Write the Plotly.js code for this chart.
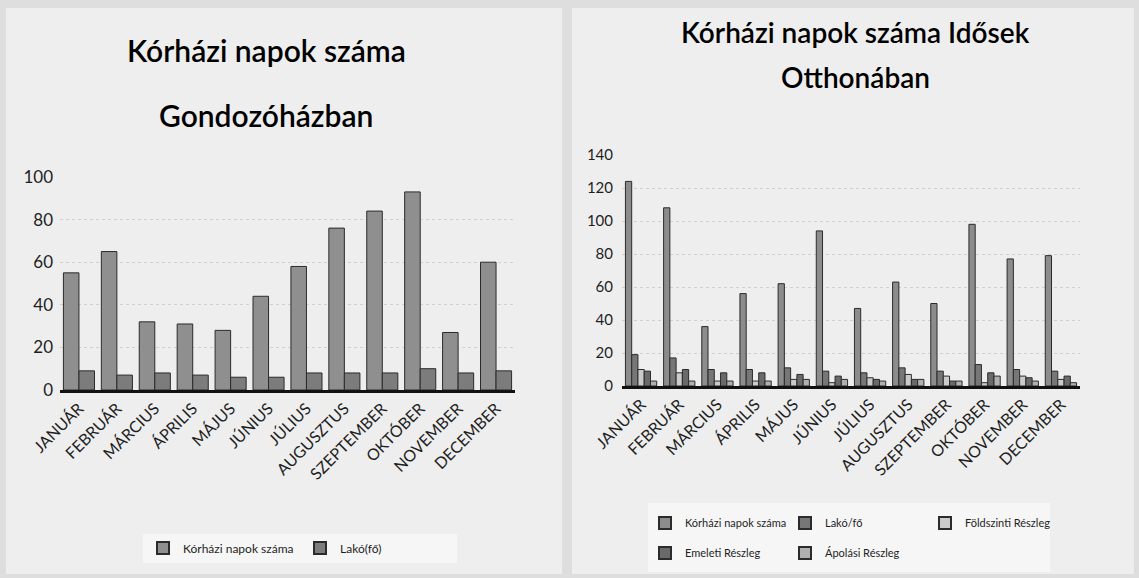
<!DOCTYPE html>
<html>
<head>
<meta charset="utf-8">
<script src="https://cdn.plot.ly/plotly-3.0.1.min.js"></script>
<style>html,body{margin:0;padding:0;background:#dedede;overflow:hidden;}#chart{width:1139px;height:578px;overflow:hidden;}</style>
</head>
<body>
<div id="chart"></div>
<script>
// ---- data ----
const months = ['JANUÁR','FEBRUÁR','MÁRCIUS','ÁPRILIS','MÁJUS','JÚNIUS','JÚLIUS','AUGUSZTUS','SZEPTEMBER','OKTÓBER','NOVEMBER','DECEMBER'];

// Left chart: Gondozóház
const leftTitle = ['Kórházi napok száma', 'Gondozóházban'];
const leftKorhazi = [55, 65, 32, 31, 28, 44, 58, 76, 84, 93, 27, 60];
const leftLako = [9, 7, 8, 7, 6, 6, 8, 8, 8, 10, 8, 9];
const leftNames = ['Kórházi napok száma', 'Lakó(fő)'];

// Right chart: Idősek Otthona
const rightTitle = ['Kórházi napok száma Idősek', 'Otthonában'];
const rightKorhazi = [124, 108, 36, 56, 62, 94, 47, 63, 50, 98, 77, 79];
const rightLako = [19, 17, 10, 10, 11, 9, 8, 11, 9, 13, 10, 9];
const rightFoldszinti = [10, 8, 3, 3, 4, 2, 5, 7, 6, 2, 6, 4];
const rightEmeleti = [9, 10, 8, 8, 7, 6, 4, 4, 3, 8, 5, 6];
const rightApolasi = [3, 3, 3, 3, 4, 4, 3, 4, 3, 6, 3, 2];
const rightNames = ['Kórházi napok száma', 'Lakó/fő', 'Földszinti Részleg', 'Emeleti Részleg', 'Ápolási Részleg'];

// ---- rendering ----
const W = 1139, H = 578;
const px = v => v / W;
const py = v => 1 - v / H;
const FONT = 'Lato, "Open Sans", sans-serif';
const outline = {color: '#2b2b2b', width: 1};

function bar(x, y, name, color, xa, ya, legend) {
  return {type: 'bar', x: x, y: y, name: name, xaxis: xa, yaxis: ya, legend: legend,
          marker: {color: color, line: outline}, hoverinfo: 'x+y+name'};
}

const traces = [
  bar(months, leftKorhazi, leftNames[0], '#8f8f8f', 'x', 'y', 'legend'),
  bar(months, leftLako, leftNames[1], '#7c7c7c', 'x', 'y', 'legend'),
  bar(months, rightKorhazi, rightNames[0], '#8c8c8c', 'x2', 'y2', 'legend2'),
  bar(months, rightLako, rightNames[1], '#777777', 'x2', 'y2', 'legend2'),
  bar(months, rightFoldszinti, rightNames[2], '#cbcbcb', 'x2', 'y2', 'legend2'),
  bar(months, rightEmeleti, rightNames[3], '#6a6a6a', 'x2', 'y2', 'legend3'),
  bar(months, rightApolasi, rightNames[4], '#b0b0b0', 'x2', 'y2', 'legend3')
];

const xCommon = {
  type: 'category', showline: true, linecolor: '#111', linewidth: 3,
  ticks: '', tickangle: -45, showgrid: false, zeroline: false,
  tickfont: {family: FONT, size: 16, color: '#1e1e1e'}
};
const yCommon = {
  showline: false, ticks: '', zeroline: false, dtick: 20,
  showgrid: true, gridcolor: '#d0d0d0', griddash: 'dot', gridwidth: 1,
  tickfont: {family: FONT, size: 17, color: '#1e1e1e'}
};

const legendCommon = {
  orientation: 'h', font: {family: FONT, size: 12, color: '#1e1e1e'},
  itemsizing: 'constant', yanchor: 'middle', traceorder: 'normal', itemwidth: 30
};

const layout = {
  width: W, height: H, autosize: false,
  margin: {l: 0, r: 0, t: 0, b: 0},
  paper_bgcolor: '#dedede', plot_bgcolor: '#f9f9f9',
  barmode: 'group', bargap: 0.18, bargroupgap: 0,
  showlegend: true,
  xaxis: Object.assign({}, xCommon, {domain: [px(60), px(515)], anchor: 'y'}),
  yaxis: Object.assign({}, yCommon, {domain: [py(390), py(177)], range: [0, 100], anchor: 'x', ticklabelstandoff: 6}),
  xaxis2: Object.assign({}, xCommon, {domain: [px(622), px(1080)], anchor: 'y2'}),
  yaxis2: Object.assign({}, yCommon, {domain: [py(386), py(155)], range: [0, 140], anchor: 'x2', ticklabelstandoff: 8,
    tickfont: {family: FONT, size: 15, color: '#1e1e1e'}}),
  legend: Object.assign({}, legendCommon, {x: px(300), xanchor: 'center', y: py(548),
    bgcolor: '#f6f6f6', entrywidth: 112}),
  legend2: Object.assign({}, legendCommon, {x: px(645), xanchor: 'left', y: py(523),
    bgcolor: 'rgba(0,0,0,0)', entrywidth: 95, font: {family: FONT, size: 11, color: '#1e1e1e'}}),
  legend3: Object.assign({}, legendCommon, {x: px(645), xanchor: 'left', y: py(553),
    bgcolor: 'rgba(0,0,0,0)', entrywidth: 95, font: {family: FONT, size: 11, color: '#1e1e1e'}}),
  shapes: [
    {type: 'rect', xref: 'paper', yref: 'paper', x0: px(6), x1: px(562), y0: py(574), y1: py(8),
     fillcolor: '#eeeeee', line: {width: 0}, layer: 'below'},
    {type: 'rect', xref: 'paper', yref: 'paper', x0: px(572), x1: px(1134), y0: py(574), y1: py(8),
     fillcolor: '#eeeeee', line: {width: 0}, layer: 'below'},
    {type: 'rect', xref: 'paper', yref: 'paper', x0: px(648), x1: px(1050), y0: py(572), y1: py(503),
     fillcolor: '#f6f6f6', line: {width: 0}, layer: 'below'}
  ],
  annotations: [
    {text: leftTitle[0], xref: 'paper', yref: 'paper', x: px(266), y: py(50), showarrow: false,
     xanchor: 'center', yanchor: 'middle', font: {family: FONT, size: 30, color: '#000', weight: 600}},
    {text: leftTitle[1], xref: 'paper', yref: 'paper', x: px(266), y: py(115), showarrow: false,
     xanchor: 'center', yanchor: 'middle', font: {family: FONT, size: 30, color: '#000', weight: 600}},
    {text: rightTitle[0], xref: 'paper', yref: 'paper', x: px(855), y: py(32), showarrow: false,
     xanchor: 'center', yanchor: 'middle', font: {family: FONT, size: 28, color: '#000', weight: 600}},
    {text: rightTitle[1], xref: 'paper', yref: 'paper', x: px(855), y: py(77), showarrow: false,
     xanchor: 'center', yanchor: 'middle', font: {family: FONT, size: 28, color: '#000', weight: 600}}
  ]
};

Plotly.newPlot('chart', traces, layout, {displayModeBar: false, staticPlot: true});
</script>
</body>
</html>
